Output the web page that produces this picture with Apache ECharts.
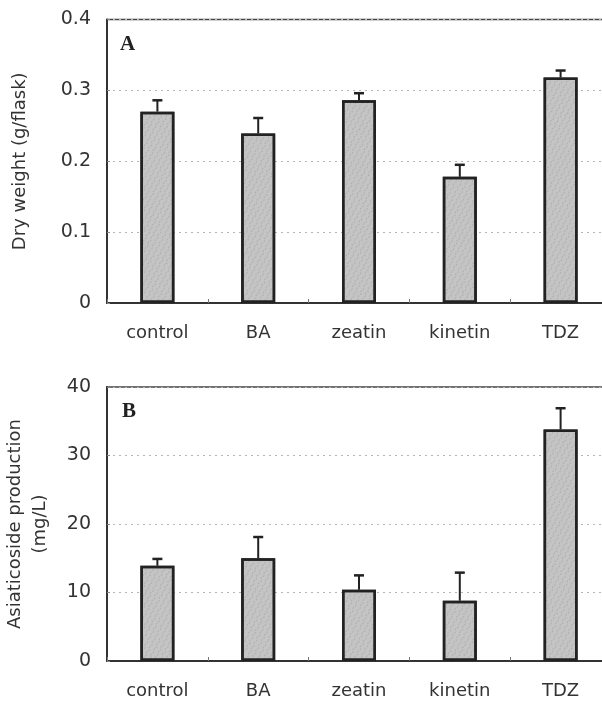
<!DOCTYPE html>
<html>
<head>
<meta charset="utf-8">
<script src="https://cdn.jsdelivr.net/npm/echarts@6/dist/echarts.min.js"></script>
<style>
html,body{margin:0;padding:0;background:#fff;}
#c{width:602px;height:701px;}
</style>
</head>
<body>
<div id="c"></div>
<script>
const categories = ['control', 'BA', 'zeatin', 'kinetin', 'TDZ'];
const dryWeight = [0.270, 0.239, 0.286, 0.178, 0.318];
const dryWeightErrTop = [0.286, 0.261, 0.296, 0.195, 0.328];
const asiaticoside = [13.9, 15.0, 10.4, 8.8, 33.8];
const asiaticosideErrTop = [14.9, 18.1, 12.5, 12.9, 36.9];
const yTicksA = [0, 0.1, 0.2, 0.3, 0.4];
const yTicksB = [0, 10, 20, 30, 40];

const FONT = "'DejaVu Sans', 'Liberation Sans', Arial, sans-serif";
const TXT = '#333';

function errItem(params, api) {
  const x = api.value(0);
  const top = api.coord([x, api.value(2)]);
  const base = api.coord([x, api.value(1)]);
  const cap = 5;
  return {
    type: 'group',
    children: [
      {type: 'line', shape: {x1: top[0], y1: top[1], x2: base[0], y2: base[1]}, style: {stroke: '#222', lineWidth: 2}},
      {type: 'line', shape: {x1: top[0] - cap, y1: top[1], x2: top[0] + cap, y2: top[1]}, style: {stroke: '#222', lineWidth: 2.5}}
    ]
  };
}

function xAxisCfg(gi) {
  return {
    type: 'category', gridIndex: gi, data: categories,
    axisLine: {lineStyle: {color: '#333', width: 2}},
    axisTick: {show: true, inside: true, length: 4, lineStyle: {color: '#777'}},
    axisLabel: {color: TXT, fontFamily: FONT, fontSize: 18, margin: 21}
  };
}
function yAxisCfg(gi, ticks, name, nameGap) {
  return {
    type: 'value', gridIndex: gi, min: ticks[0], max: ticks[ticks.length - 1],
    interval: ticks[1] - ticks[0],
    name: name, nameLocation: 'middle', nameGap: nameGap,
    nameTextStyle: {color: TXT, fontFamily: FONT, fontSize: 18, lineHeight: 25},
    axisLine: {show: true, lineStyle: {color: '#333', width: 2}},
    axisTick: {show: true, inside: true, length: 3, lineStyle: {color: '#888'}},
    axisLabel: {color: TXT, fontFamily: FONT, fontSize: 19, margin: 16},
    splitLine: {show: true, lineStyle: {color: '#b5b5b5', type: [2, 4], width: 1}}
  };
}

const barStyle = {
  color: '#c4c4c4', borderColor: '#222', borderWidth: 2.5,
  decal: {symbol: 'circle', symbolSize: 0.6, color: 'rgba(90,90,90,0.45)',
          dashArrayX: [[3, 2], [0, 1, 3, 1]], dashArrayY: [2, 1], rotation: 0.5}
};

const chart = echarts.init(document.getElementById('c'), null, {renderer: 'canvas'});
chart.setOption({
  animation: false,
  backgroundColor: '#fff',
  grid: [
    {left: 107, top: 19.5, width: 504, height: 283.5, show: true, borderColor: '#444', borderWidth: 1.5, outerBoundsMode: 'none', containLabel: false},
    {left: 107, top: 387, width: 504, height: 274, show: true, borderColor: '#444', borderWidth: 1.5, outerBoundsMode: 'none', containLabel: false}
  ],
  xAxis: [xAxisCfg(0), xAxisCfg(1)],
  yAxis: [
    yAxisCfg(0, yTicksA, 'Dry weight (g/flask)', 74),
    yAxisCfg(1, yTicksB, 'Asiaticoside production\n(mg/L)', 54)
  ],
  graphic: [
    {type: 'text', left: 120, top: 34, style: {text: 'A', font: "bold 21px 'Liberation Serif', 'Times New Roman', serif", fill: '#222'}},
    {type: 'text', left: 122, top: 401, style: {text: 'B', font: "bold 21px 'Liberation Serif', 'Times New Roman', serif", fill: '#222'}}
  ],
  series: [
    {type: 'bar', xAxisIndex: 0, yAxisIndex: 0, data: dryWeight, barWidth: 34, itemStyle: barStyle},
    {type: 'custom', xAxisIndex: 0, yAxisIndex: 0, renderItem: errItem, z: 3,
     data: categories.map((c, i) => [i, dryWeight[i], dryWeightErrTop[i]])},
    {type: 'bar', xAxisIndex: 1, yAxisIndex: 1, data: asiaticoside, barWidth: 34, itemStyle: barStyle},
    {type: 'custom', xAxisIndex: 1, yAxisIndex: 1, renderItem: errItem, z: 3,
     data: categories.map((c, i) => [i, asiaticoside[i], asiaticosideErrTop[i]])}
  ]
});
</script>
</body>
</html>
